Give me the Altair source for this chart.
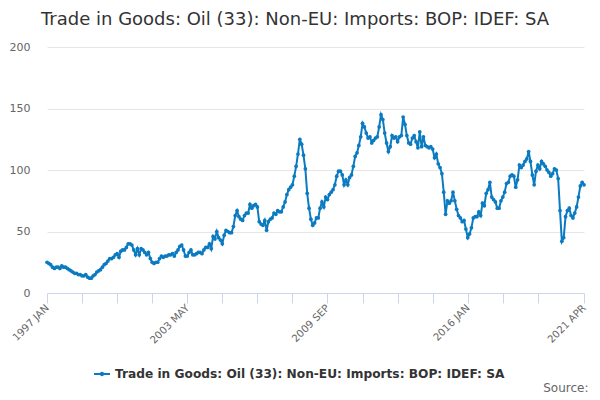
import altair as alt
import pandas as pd

series_name = "Trade in Goods: Oil (33): Non-EU: Imports: BOP: IDEF: SA"
chart_title = "Trade in Goods: Oil (33): Non-EU: Imports: BOP: IDEF: SA"
source_text = "Source:"
line_color = "#0b7bc1"

# monthly values, 1997 JAN .. 2021 APR
values = [
    25, 24, 23, 21, 20, 21, 21, 20, 22, 21, 21, 20,
    19, 18, 17, 16, 16, 15, 15, 14, 14, 15, 13, 12,
    12, 14, 15, 17, 18, 19, 21, 23, 24, 26, 28, 28,
    29, 31, 32, 29, 34, 35, 35, 37, 40, 40, 39, 35,
    31, 36, 31, 36, 35, 33, 31, 33, 28, 25, 24, 25,
    25, 28, 30, 29, 30, 30, 31, 31, 32, 30, 33, 35,
    38, 39, 35, 30, 30, 33, 35, 31, 31, 32, 33, 33,
    32, 35, 37, 37, 40, 36, 46, 44, 50, 45, 43, 40,
    47, 51, 50, 49, 49, 54, 63, 67, 62, 60, 59, 63,
    65, 65, 72, 69, 71, 72, 70, 58, 56, 55, 59, 51,
    58, 60, 61, 65, 64, 67, 66, 66, 70, 74, 80, 84,
    86, 88, 95, 103, 113, 125, 121, 112, 101, 81, 69, 60,
    55, 57, 61, 61, 69, 74, 70, 78, 76, 80, 82, 84,
    88, 95, 99, 99, 96, 88, 92, 88, 94, 96, 103, 111,
    114, 120, 127, 138, 135, 130, 126, 127, 122, 124, 126, 127,
    135, 145, 141, 130, 122, 115, 119, 128, 126, 127, 123, 127,
    128, 143, 137, 128, 122, 121, 126, 128, 123, 118, 131, 119,
    127, 120, 119, 118, 119, 117, 110, 113, 105, 102, 97, 82,
    64, 75, 73, 75, 82, 75, 68, 63, 61, 58, 59, 52,
    45, 48, 53, 61, 62, 62, 66, 63, 73, 71, 81, 84,
    90, 78, 76, 74, 69, 69, 75, 78, 82, 89, 90, 95,
    96, 95, 86, 92, 104, 102, 104, 107, 109, 115, 107, 96,
    88, 99, 104, 101, 107, 105, 103, 100, 98, 95, 97, 101,
    100, 93, 67, 42, 45, 62, 67, 69, 63, 61, 65, 70,
    78, 87, 90, 88,
]
start_year = 1997
month_names = ["JAN", "FEB", "MAR", "APR", "MAY", "JUN",
               "JUL", "AUG", "SEP", "OCT", "NOV", "DEC"]
tick_positions = [0, 19, 38, 57, 76, 95, 114, 133, 152, 171, 190, 209, 228, 247, 266, 291]
labelled_ticks = [0, 76, 152, 228, 291]
y_ticks = [0, 50, 100, 150, 200]

df = pd.DataFrame({
    "idx": list(range(len(values))),
    "value": values,
    "series": series_name,
})

months_js = "[" + ",".join("'%s'" % m for m in month_names) + "]"
labelled_js = "[" + ",".join(str(v) for v in labelled_ticks) + "]"
label_expr = (
    f"indexof({labelled_js}, datum.value) >= 0 ? "
    f"('' + ({start_year} + floor(datum.value / 12)) + ' ' + {months_js}[datum.value % 12]) : ''"
)

legend_path = ("M-1,-0.12L1,-0.12L1,0.12L-1,0.12Z "
               "M0.28,0A0.28,0.28 0 1,1 -0.28,0A0.28,0.28 0 1,1 0.28,0Z")

chart = alt.Chart(df).mark_line(
    strokeWidth=2,
    point=alt.OverlayMarkDef(filled=True, size=14),
).encode(
    x=alt.X(
        "idx:Q",
        scale=alt.Scale(domain=[0, len(values) - 1], nice=False, zero=False),
        axis=alt.Axis(
            values=tick_positions,
            labelExpr=label_expr,
            grid=False,
            labelAngle=315,
            labelAlign="right",
            labelBaseline="middle",
            labelPadding=3,
            labelFlush=False,
            labelOverlap=False,
            tickSize=10,
            tickColor="#ccd6eb",
            domainColor="#ccd6eb",
            labelColor="#666666",
            labelFontSize=10.2,
            title=source_text,
            titleX=541,
            titleY=98,
            titleAlign="right",
            titleAngle=0,
            titleBaseline="alphabetic",
            titleFontWeight="normal",
            titleFontSize=12,
            titleColor="#666666",
        ),
    ),
    y=alt.Y(
        "value:Q",
        scale=alt.Scale(domain=[0, 200], nice=False),
        axis=alt.Axis(
            values=y_ticks,
            domain=False,
            ticks=False,
            gridColor="#e6e6e6",
            labelPadding=17,
            labelColor="#666666",
            labelFontSize=11,
            title=None,
        ),
    ),
    color=alt.Color(
        "series:N",
        scale=alt.Scale(range=[line_color]),
        legend=alt.Legend(
            title=None,
            orient="none",
            legendX=47,
            legendY=319,
            padding=0,
            symbolType=legend_path,
            symbolSize=256,
            symbolStrokeWidth=0,
            symbolFillColor=line_color,
            labelFontSize=12.2,
            labelFontWeight="bold",
            labelColor="#333333",
            labelLimit=800,
            labelOffset=5,
        ),
    ),
).properties(
    width=537,
    height=246,
    autosize=alt.AutoSizeParams(type="none"),
    padding={"left": 39, "top": 39, "right": 8, "bottom": 108},
    title=alt.Title(
        chart_title,
        anchor="start",
        frame="group",
        offset=12,
        dx=-6,
        fontSize=18,
        fontWeight="normal",
        color="#333333",
        font="DejaVu Sans",
    ),
).configure(
    font="DejaVu Sans",
).configure_view(
    stroke=None,
)

chart.save("out.html", embed_options={"renderer": "svg", "actions": False})
